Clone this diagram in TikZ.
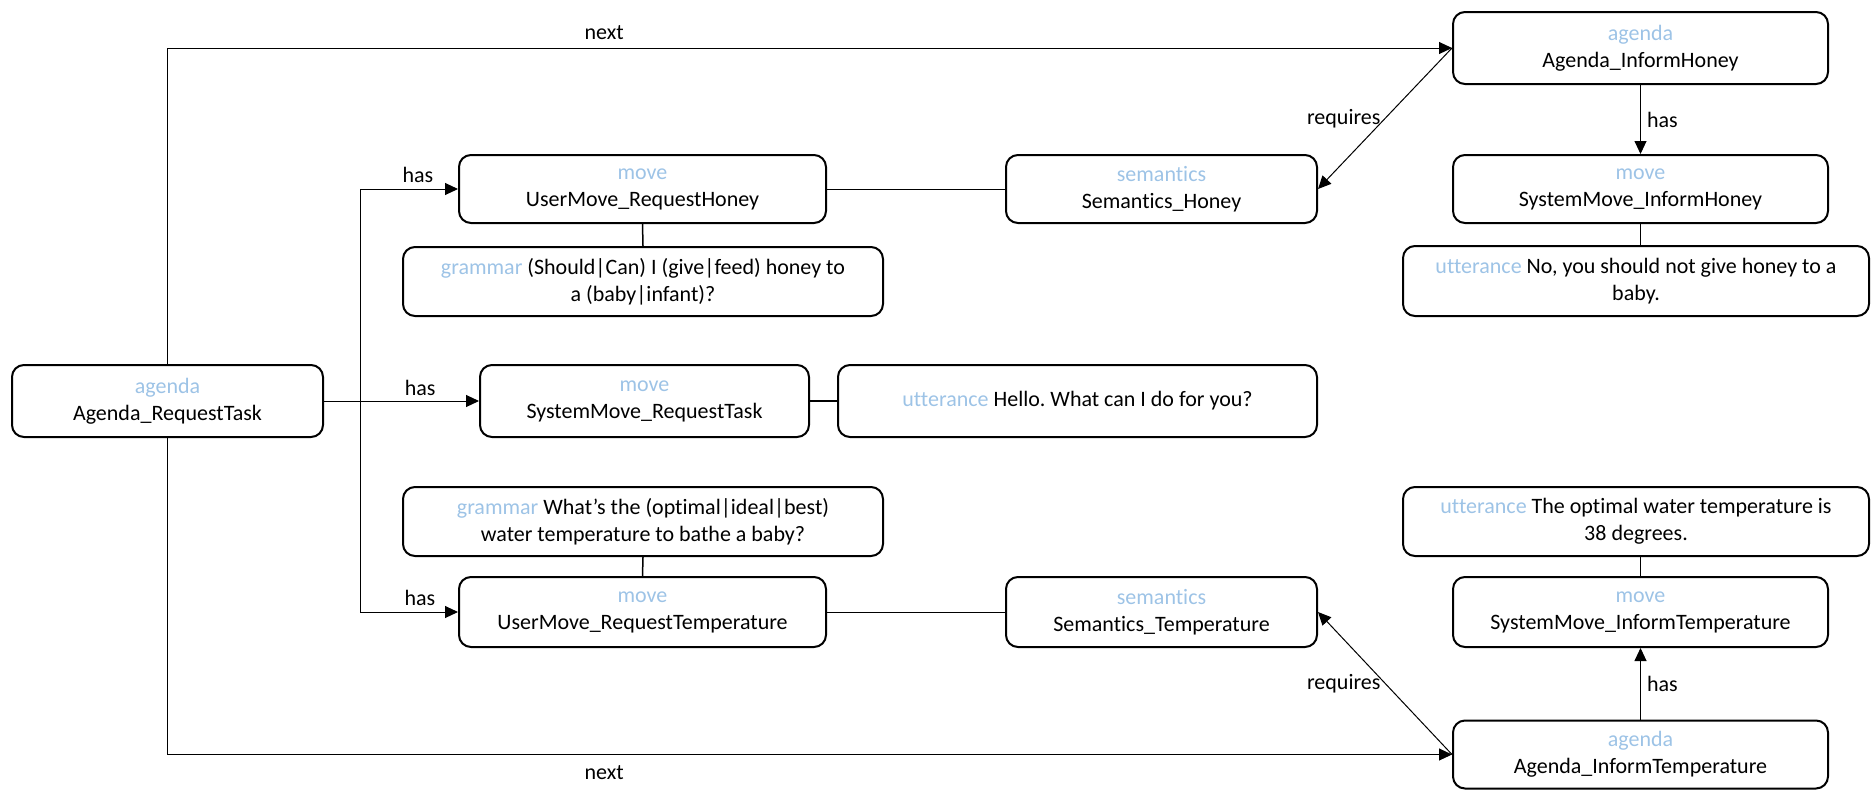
\documentclass[tikz,border=0pt]{standalone}
\usepackage{fontspec}
\setmainfont{Carlito}[Ligatures=NoCommon]
\usetikzlibrary{arrows.meta}
\definecolor{kindblue}{HTML}{9DC3E6}
\newcommand{\kind}[1]{\textcolor{kindblue}{#1}}
\frenchspacing

\begin{document}
\begin{tikzpicture}[x=1pt,y=-1pt,
	box/.style={draw, line width=2pt, rounded corners=12pt, align=center, inner sep=0pt,
		font=\fontsize{22}{27}\selectfont},
	lbl/.style={font=\fontsize{22}{27}\selectfont, inner sep=2pt},
	arr/.style={line width=1pt, -{Triangle[length=13pt,width=12pt]}},
	link/.style={line width=1.5pt}]

	\useasboundingbox (0,0) rectangle (1871,790);

	% Start agenda
	\node[box, minimum width=311pt, minimum height=72pt] (artask) at (167.5,401) {\kind{agenda}\\Agenda\_RequestTask};

	% Moves of the start agenda
	\node[box, minimum width=329pt, minimum height=72pt] (smrtask) at (644.5,401) {\kind{move}\\SystemMove\_RequestTask};
	\node[box, minimum width=479pt, minimum height=72pt] (uhello) at (1077.5,401) {\kind{utterance} Hello. What can I do for you?};

	\node[box, minimum width=367pt, minimum height=68pt] (umrhoney) at (642.5,189) {\kind{move}\\UserMove\_RequestHoney};
	\node[box, minimum width=480pt, minimum height=69pt] (ghoney) at (643,281.5) {\kind{grammar} (Should|Can) I (give|feed) honey to\\a (baby|infant)?};
	\node[box, minimum width=311pt, minimum height=68pt] (semhoney) at (1161.5,189) {\kind{semantics}\\Semantics\_Honey};

	\node[box, minimum width=480pt, minimum height=69pt] (gtemp) at (643,521.5) {\kind{grammar} What’s the (optimal|ideal|best)\\water temperature to bathe a baby?};
	\node[box, minimum width=367pt, minimum height=70pt] (umrtemp) at (642.5,612) {\kind{move}\\UserMove\_RequestTemperature};
	\node[box, minimum width=311pt, minimum height=70pt] (semtemp) at (1161.5,612) {\kind{semantics}\\Semantics\_Temperature};

	% Honey agenda
	\node[box, minimum width=375pt, minimum height=72pt] (aihoney) at (1640.5,48) {\kind{agenda}\\Agenda\_InformHoney};
	\node[box, minimum width=375pt, minimum height=68pt] (smihoney) at (1640.5,189) {\kind{move}\\SystemMove\_InformHoney};
	\node[box, minimum width=466pt, minimum height=70pt] (uhoney) at (1636,281) {\kind{utterance} No, you should not give honey to a\\baby.};

	% Temperature agenda
	\node[box, minimum width=466pt, minimum height=69pt] (utemp) at (1636,521.5) {\kind{utterance} The optimal water temperature is\\38 degrees.};
	\node[box, minimum width=375pt, minimum height=70pt] (smitemp) at (1640.5,612) {\kind{move}\\SystemMove\_InformTemperature};
	\node[box, minimum width=375pt, minimum height=68pt] (aitemp) at (1640.5,754.5) {\kind{agenda}\\Agenda\_InformTemperature};

	% next
	\draw[arr] (artask.north) |- node[lbl, pos=0.67, above=6pt] {next} (aihoney.west);
	\draw[arr] (artask.south) |- node[lbl, pos=0.67, below=9pt] {next} (aitemp.west);

	% has (start agenda)
	\coordinate (hasx) at (360,0);
	\draw[arr] (artask.east) -- node[lbl, pos=0.62, above=3pt] {has} (smrtask.west);
	\draw[arr] (hasx |- umrtemp.west) |- (umrhoney.west);
	\draw[arr] (hasx |- umrtemp.west) -- (umrtemp.west);
	\node[lbl, above=4pt] (hashoney) at (418,189) {has};
	\node[lbl, above=4pt] (hastemp) at (420,612) {has};

	% links
	\draw[link] (smrtask.east) -- (uhello.west);
	\draw[link] (umrhoney.south) -- (ghoney.north);
	\draw[line width=1pt] (umrhoney.east) -- (semhoney.west);
	\draw[link] (gtemp.south) -- (umrtemp.north);
	\draw[line width=1pt] (umrtemp.east) -- (semtemp.west);
	\draw[link] (smihoney.south) -- (smihoney.south |- uhoney.north);
	\draw[link] (smitemp.north |- utemp.south) -- (smitemp.north);

	% requires
	\draw[arr] (aihoney.west) -- node[lbl, left=2pt] {requires} (semhoney.east);
	\draw[arr] (aitemp.west) -- node[lbl, left=2pt] {requires} (semtemp.east);

	% has (answer agendas)
	\draw[arr] (aihoney.south) -- node[lbl, right=4pt] {has} (smihoney.north);
	\draw[arr] (aitemp.north) -- node[lbl, right=4pt] {has} (smitemp.south);

\end{tikzpicture}
\end{document}
